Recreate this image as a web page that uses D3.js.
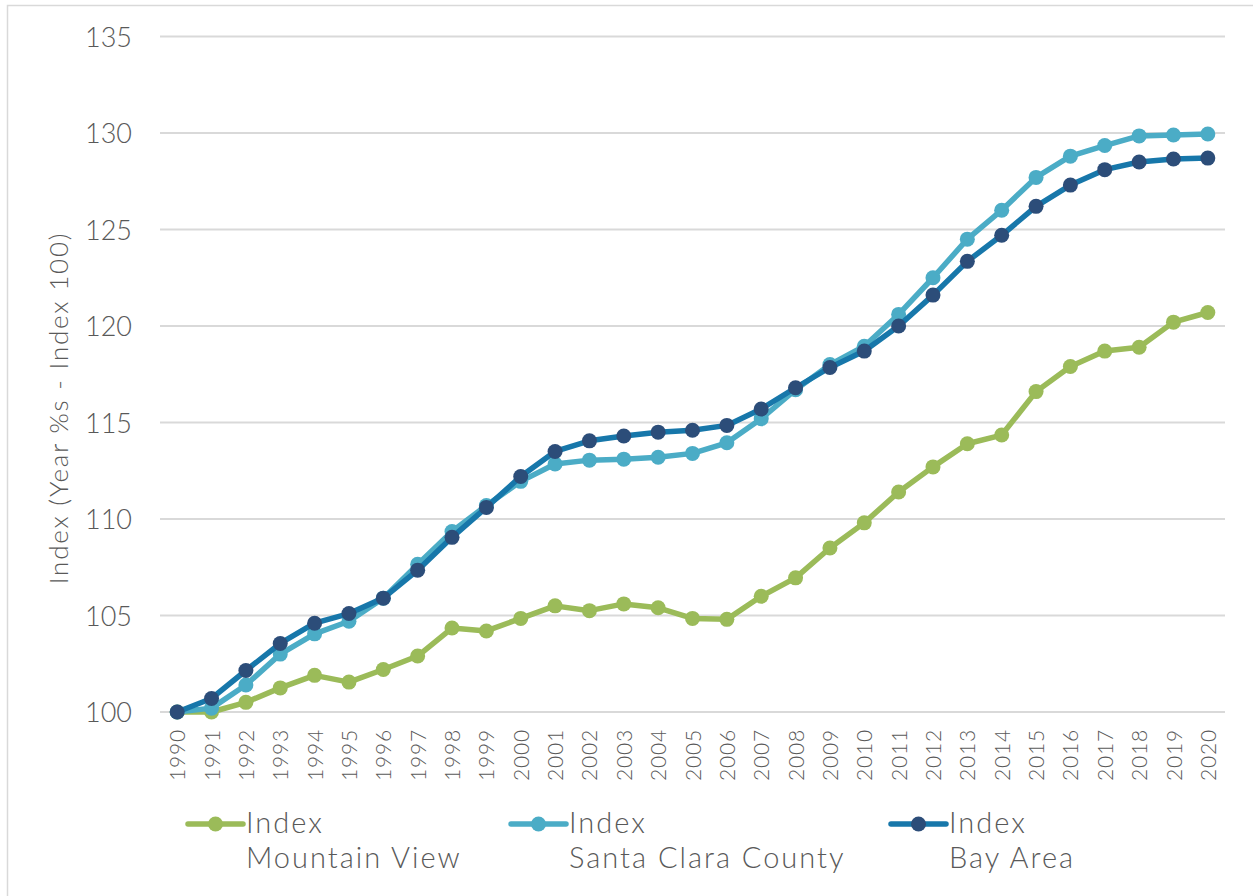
<!DOCTYPE html>
<meta charset="utf-8">
<title>Index chart</title>
<script src="https://d3js.org/d3.v7.min.js"></script>
<style>
    body { margin: 0; background: #fff; }
    svg text { font-family: "Lato", "DejaVu Sans", sans-serif; font-weight: 300; fill: #595959; }
</style>
<body>
<script>
    // Data
    const years = d3.range(1990, 2021);

    const mountainView = [100, 100.0, 100.5, 101.25, 101.9, 101.55, 102.2, 102.9, 104.35, 104.2,
                          104.85, 105.5, 105.25, 105.6, 105.4, 104.85, 104.8, 106.0, 106.95, 108.5,
                          109.8, 111.4, 112.7, 113.9, 114.35, 116.6, 117.9, 118.7, 118.9, 120.2, 120.7];

    const santaClara = [100, 100.2, 101.4, 103.0, 104.05, 104.7, 105.9, 107.65, 109.35, 110.7,
                        111.95, 112.85, 113.05, 113.1, 113.2, 113.4, 113.95, 115.2, 116.7, 118.0,
                        118.95, 120.6, 122.5, 124.5, 126.0, 127.7, 128.8, 129.35, 129.85, 129.9, 129.95];

    const bayArea = [100, 100.7, 102.15, 103.55, 104.6, 105.1, 105.9, 107.35, 109.05, 110.6,
                     112.2, 113.5, 114.05, 114.3, 114.5, 114.6, 114.85, 115.7, 116.8, 117.85,
                     118.7, 120.0, 121.6, 123.35, 124.7, 126.2, 127.3, 128.1, 128.5, 128.65, 128.7];

    const yTicks = [100, 105, 110, 115, 120, 125, 130, 135];

    const series = [
        { name: "Mountain View",      values: mountainView, line: "#9bbb59", dot: "#9bbb59" },
        { name: "Santa Clara County", values: santaClara,   line: "#4bacc6", dot: "#4bacc6" },
        { name: "Bay Area",           values: bayArea,      line: "#1777aa", dot: "#2c4d79" }
    ];

    const width  = 1253;
    const height = 896;

    const x = d3.scalePoint()
                .domain(years)
                .range([160, 1225])
                .padding(0.5);

    const y = d3.scaleLinear()
                .domain([100, 135])
                .range([712, 36.5]);

    const svg = d3.select("body")
                  .append("svg")
                  .attr("width", width)
                  .attr("height", height);

    // chart border
    svg.append("rect")
        .attr("x", 7.5).attr("y", 5.5)
        .attr("width", 1260).attr("height", 900)
        .attr("fill", "none")
        .attr("stroke", "#d9d9d9")
        .attr("stroke-width", 1.5);

    // gridlines
    svg.append("g")
        .selectAll("line")
        .data(yTicks)
        .enter()
        .append("line")
        .attr("x1", 160).attr("x2", 1225)
        .attr("y1", d => y(d)).attr("y2", d => y(d))
        .attr("stroke", "#d9d9d9")
        .attr("stroke-width", 2);

    // y axis labels
    const yAxis = d3.axisLeft(y).tickValues(yTicks).tickSize(0).tickPadding(0);
    const yG = svg.append("g")
        .attr("transform", "translate(132,0)")
        .call(yAxis);
    yG.select(".domain").remove();
    yG.selectAll("text")
        .attr("font-size", 27)
        .attr("font-family", null)
        .attr("dy", "0.36em");

    // x axis labels
    const xAxis = d3.axisBottom(x).tickSize(0).tickPadding(0);
    const xG = svg.append("g")
        .attr("transform", "translate(0,729)")
        .call(xAxis);
    xG.select(".domain").remove();
    xG.selectAll("text")
        .attr("font-size", 21)
        .attr("letter-spacing", 0.8)
        .attr("font-family", null)
        .attr("transform", "rotate(-90)")
        .attr("text-anchor", "end")
        .attr("x", 0)
        .attr("y", 0)
        .attr("dy", "0.36em");

    // y axis title
    svg.append("text")
        .attr("transform", "translate(68,408) rotate(-90)")
        .attr("text-anchor", "middle")
        .attr("font-size", 26)
        .attr("letter-spacing", 1.8)
        .text("Index (Year %s - Index 100)");

    // lines and points
    const line = d3.line()
                   .x((d, i) => x(years[i]))
                   .y(d => y(d));

    series.forEach(s => {
        const g = svg.append("g");
        g.append("path")
            .attr("d", line(s.values))
            .attr("fill", "none")
            .attr("stroke", s.line)
            .attr("stroke-width", 5.5)
            .attr("stroke-linejoin", "round");
        g.selectAll("circle")
            .data(s.values)
            .enter()
            .append("circle")
            .attr("cx", (d, i) => x(years[i]))
            .attr("cy", d => y(d))
            .attr("r", 7.5)
            .attr("fill", s.dot);
    });

    // legend
    const legendX = [188, 511, 891];
    const legend = svg.append("g")
        .selectAll("g")
        .data(series)
        .enter()
        .append("g")
        .attr("transform", (d, i) => "translate(" + legendX[i] + ",824)");

    legend.append("line")
        .attr("x1", 0).attr("x2", 55)
        .attr("stroke", d => d.line)
        .attr("stroke-width", 5.5)
        .attr("stroke-linecap", "round");
    legend.append("circle")
        .attr("cx", 27.5)
        .attr("r", 7.5)
        .attr("fill", d => d.dot);
    legend.append("text")
        .attr("x", 58)
        .attr("y", 9)
        .attr("font-size", 29)
        .attr("letter-spacing", 2)
        .text("Index");
    legend.append("text")
        .attr("x", 58)
        .attr("y", 44)
        .attr("font-size", 29)
        .attr("letter-spacing", 2)
        .text(d => d.name);
</script>
</body>
